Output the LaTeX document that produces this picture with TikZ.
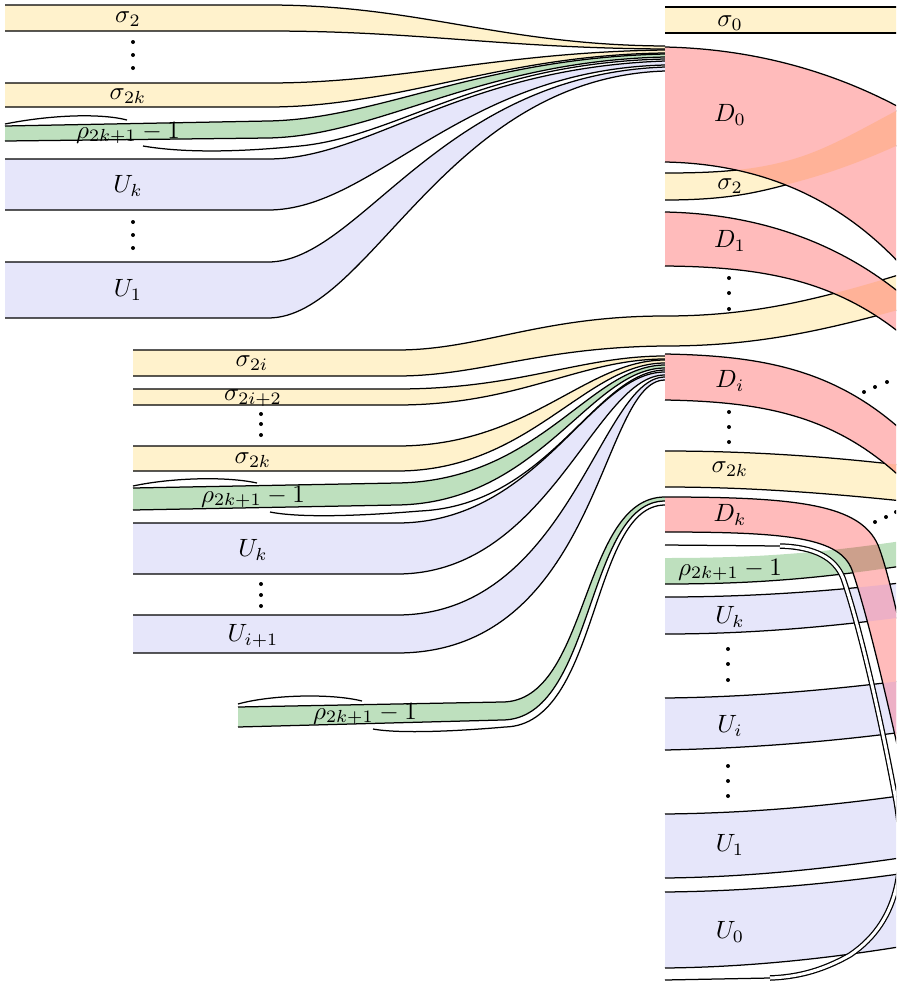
\documentclass[tikz,border=0pt]{standalone}
\usepackage{tikz}

\definecolor{sigfill}{RGB}{255,242,204}
\definecolor{rhofill}{RGB}{190,224,190}
\definecolor{upsfill}{RGB}{230,230,250}
\definecolor{deefill}{RGB}{255,187,187}
\definecolor{sigdeefill}{RGB}{255,178,152}
\definecolor{rhodeefill}{RGB}{204,160,140}
\definecolor{upsdeefill}{RGB}{237,176,198}

\tikzset{
  sig/.style={fill=sigfill},
  rho/.style={fill=rhofill},
  ups/.style={fill=upsfill},
  dee/.style={fill=deefill},
  sigdee/.style={fill=sigdeefill},
  rhodee/.style={fill=rhodeefill},
  upsdee/.style={fill=upsdeefill},
  bandedge/.style={draw=black, line width=0.5pt},
  ribbon/.style={draw=black, line width=0.5pt, double=white, double distance=1.2pt},
}

% a band: fill between top edge (left to right) and bottom edge (right to left)
\newcommand{\band}[3]{%
  \fill[#1] #2 -- #3 -- cycle;
  \draw[bandedge] #2;
  \draw[bandedge] #3;}
% part of a band lying under a D band
\newcommand{\crossfill}[3]{%
  \begin{scope}\clip #1; \fill[#2] #3; \end{scope}}

% right column edges
\def\sigtwoT{(665,173) .. controls (720,173) and (760,170) .. (800,157) .. controls (840,144) and (880,118) .. (940,88)}
\def\sigtwoB{(940,125) .. controls (880,155) and (840,170) .. (800,181) .. controls (760,192) and (730,200) .. (665,200)}
\def\sigiT{(133,350) -- (397,350) .. controls (480,350) and (540,316) .. (665,316) .. controls (760,316) and (830,297) .. (940,262)}
\def\sigiB{(940,298) .. controls (830,330) and (760,346) .. (665,346) .. controls (540,347) and (480,376) .. (397,376) -- (133,376)}
\def\sigkT{(665,451) .. controls (760,451) and (850,458) .. (940,470)}
\def\sigkB{(940,505) .. controls (850,495) and (760,487) .. (665,487)}
\def\rhoT{(665,558) .. controls (760,558) and (830,553) .. (940,535)}
\def\rhoB{(940,560) .. controls (830,578) and (760,584) .. (665,584)}
\def\ukT{(665,597) .. controls (760,597) and (850,590) .. (940,578)}
\def\ukB{(940,612) .. controls (850,625) and (760,634) .. (665,634)}
\def\uiT{(665,698) .. controls (760,697) and (850,688) .. (940,676)}
\def\uiB{(940,727) .. controls (850,740) and (760,748) .. (665,750)}
\def\uoneT{(665,814) .. controls (760,813) and (850,804) .. (940,790)}
\def\uoneB{(940,852) .. controls (850,866) and (760,877) .. (665,878)}
\def\uzeroT{(665,892) .. controls (760,891) and (850,882) .. (940,868)}
\def\uzeroB{(940,940) .. controls (850,956) and (760,967) .. (665,968)}
% D bands
\def\DzeroT{(665,47) .. controls (760,49) and (850,75) .. (930,125)}
\def\DzeroB{(930,300) .. controls (860,205) and (770,164) .. (665,162)}
\def\DoneT{(665,212) .. controls (770,214) and (860,250) .. (930,320)}
\def\DoneB{(940,370) .. controls (860,285) and (780,267) .. (665,266)}
\def\DiT{(665,354) .. controls (780,356) and (860,375) .. (940,470)}
\def\DiB{(940,520) .. controls (860,420) and (780,402) .. (665,400)}
\def\DkT{(665,497) .. controls (800,497) and (860,505) .. (878,545) .. controls (890,575) and (905,650) .. (930,760)}
\def\DkB{(905,780) .. controls (885,690) and (866,610) .. (852,570) .. controls (840,538) and (790,532) .. (665,532)}

\begin{document}
\begin{tikzpicture}[x=0.4pt, y=-0.4pt, line join=round]
    \useasboundingbox (0,0) rectangle (896,982);
    \clip (0,0) rectangle (896,982);

    % upper left bundle
    \band{sig}{(5,5) -- (268,5) .. controls (420,5) and (500,45) .. (665,46)}{(665,49) .. controls (500,48) and (420,31) .. (268,31) -- (5,31)}
    \band{sig}{(5,83) -- (268,83) .. controls (400,83) and (500,52) .. (665,50)}{(665,53) .. controls (500,55) and (400,107) .. (268,107) -- (5,107)}
    \band{rho}{(5,126) -- (268,121) .. controls (380,119) and (480,58) .. (665,54)}{(665,57) .. controls (480,61) and (380,136) .. (268,138) -- (5,141)}
    \draw[bandedge] (5,124) .. controls (50,115) and (100,113) .. (127,120); % twist
    \draw[bandedge] (143,146) .. controls (190,154) and (250,151) .. (300,146) .. controls (400,136) and (480,63) .. (665,59);
    \band{ups}{(5,159) -- (268,159) .. controls (370,159) and (460,68) .. (665,61)}{(665,65) .. controls (460,70) and (375,210) .. (268,210) -- (5,210)}
    \band{ups}{(5,262) -- (268,262) .. controls (360,262) and (440,75) .. (665,67)}{(665,71) .. controls (445,78) and (370,318) .. (268,318) -- (5,318)}

    % middle left bundle
    \band{sig}{\sigiT}{\sigiB}
    \band{sig}{(133,389) -- (397,389) .. controls (520,389) and (580,356) .. (665,356)}{(665,359) .. controls (580,359) and (520,405) .. (397,405) -- (133,405)}
    \band{sig}{(133,446) -- (397,446) .. controls (530,446) and (585,360) .. (665,360)}{(665,363) .. controls (585,363) and (530,471) .. (397,471) -- (133,471)}
    \band{rho}{(133,488) -- (397,483) .. controls (540,481) and (590,365) .. (665,365)}{(665,368) .. controls (590,368) and (540,503) .. (397,505) -- (133,510)}
    \draw[bandedge] (133,486) .. controls (170,478) and (225,476) .. (257,483); % twist
    \draw[bandedge] (270,512) .. controls (300,518) and (360,516) .. (420,511) .. controls (550,505) and (595,371) .. (665,370);
    \band{ups}{(133,523) -- (397,523) .. controls (540,523) and (590,372) .. (665,372)}{(665,375) .. controls (595,375) and (550,574) .. (397,574) -- (133,574)}
    \band{ups}{(133,615) -- (397,615) .. controls (570,615) and (600,377) .. (665,377)}{(665,380) .. controls (600,380) and (600,653) .. (397,653) -- (133,653)}

    % lower left strand
    \band{rho}{(238,707) -- (502,702) .. controls (590,702) and (580,497) .. (665,497)}{(665,501) .. controls (585,501) and (595,720) .. (502,720) -- (238,727)}
    \draw[bandedge] (238,704) .. controls (270,695) and (330,693) .. (362,701); % twist
    \draw[bandedge] (373,729) .. controls (400,734) and (460,731) .. (505,727) .. controls (600,725) and (590,505) .. (665,505);

    % right column
    \band{sig}{(665,7) -- (940,7)}{(940,33) -- (665,33)}
    \band{sig}{\sigtwoT}{\sigtwoB}
    \band{sig}{\sigkT}{\sigkB}
    \fill[rho] \rhoT -- \rhoB -- cycle;
    \draw[bandedge] \rhoB;
    \band{ups}{\ukT}{\ukB}
    \band{ups}{\uiT}{\uiB}
    \band{ups}{\uoneT}{\uoneB}
    \band{ups}{\uzeroT}{\uzeroB}

    % D bands
    \fill[dee] \DzeroT -- \DzeroB -- cycle;
    \crossfill{\DzeroT -- \DzeroB -- cycle}{sigdee}{\sigtwoT -- \sigtwoB -- cycle}
    \fill[dee] \DoneT -- \DoneB -- cycle;
    \crossfill{\DoneT -- \DoneB -- cycle}{sigdee}{\sigiT -- \sigiB -- cycle}
    \fill[dee] \DiT -- \DiB -- cycle;
    \crossfill{\DiT -- \DiB -- cycle}{sigdee}{\sigkT -- \sigkB -- cycle}
    \fill[dee] \DkT -- \DkB -- cycle;
    \crossfill{\DkT -- \DkB -- cycle}{rhodee}{\rhoT -- \rhoB -- cycle}
    \crossfill{\DkT -- \DkB -- cycle}{upsdee}{\ukT -- \ukB -- cycle}
    \crossfill{\DkT -- \DkB -- cycle}{upsdee}{\uiT -- \uiB -- cycle}
    \draw[bandedge] \DzeroT; \draw[bandedge] \DzeroB;
    \draw[bandedge] \DoneT; \draw[bandedge] \DoneB;
    \draw[bandedge] \DiT; \draw[bandedge] \DiB;
    \draw[bandedge] \DkT; \draw[bandedge] \DkB;

    % boundary ribbon
    \draw[bandedge] (665,545) -- (780,546);
    \draw[ribbon] (780,546) .. controls (815,547) and (835,558) .. (843,578) .. controls (857,618) and (877,700) .. (894,790) .. controls (908,860) and (902,920) .. (850,955) .. controls (820,972) and (795,977) .. (770,978);
    \draw[bandedge] (770,978) -- (665,980);

    % dots
    \foreach \y in {42,55,68} \fill (133,\y) circle[radius=2];
    \foreach \y in {222,235,248} \fill (133,\y) circle[radius=2];
    \foreach \y in {414,424,435} \fill (261,\y) circle[radius=2];
    \foreach \y in {584,595,606} \fill (261,\y) circle[radius=2];
    \foreach \y in {278,293,309} \fill (729,\y) circle[radius=2];
    \foreach \y in {412,427,442} \fill (729,\y) circle[radius=2];
    \foreach \y in {649,664,680} \fill (728,\y) circle[radius=2];
    \foreach \y in {766,781,796} \fill (728,\y) circle[radius=2];
    \foreach \x/\y in {864/392,875/387,887/382,875/522,886/517,896/512} \fill (\x,\y) circle[radius=2];

    % labels
    \node (lsigtwo) at (128,19) {$\sigma_2$};
    \node (lsigtwok) at (128,96) {$\sigma_{2k}$};
    \node (lrho) at (128,133) {$\rho_{2k+1}-1$};
    \node (luk) at (128,186) {$U_k$};
    \node (luone) at (128,290) {$U_1$};
    \node (msigtwoi) at (252,363) {$\sigma_{2i}$};
    \node (msigtwoii) at (253,398) {$\sigma_{2i+2}$};
    \node (msigtwok) at (253,460) {$\sigma_{2k}$};
    \node (mrho) at (253,497) {$\rho_{2k+1}-1$};
    \node (muk) at (253,550) {$U_k$};
    \node (muii) at (253,636) {$U_{i+1}$};
    \node (brho) at (365,714) {$\rho_{2k+1}-1$};
    \node (rsigzero) at (730,23) {$\sigma_0$};
    \node (rdzero) at (730,115) {$D_0$};
    \node (rsigtwo) at (730,186) {$\sigma_2$};
    \node (rdone) at (730,241) {$D_1$};
    \node (rdi) at (730,381) {$D_i$};
    \node (rsigtwok) at (730,469) {$\sigma_{2k}$};
    \node (rdk) at (730,515) {$D_k$};
    \node (rrho) at (730,570) {$\rho_{2k+1}-1$};
    \node (ruk) at (730,617) {$U_k$};
    \node (rui) at (730,726) {$U_i$};
    \node (ruone) at (730,845) {$U_1$};
    \node (ruzero) at (730,932) {$U_0$};
\end{tikzpicture}
\end{document}
